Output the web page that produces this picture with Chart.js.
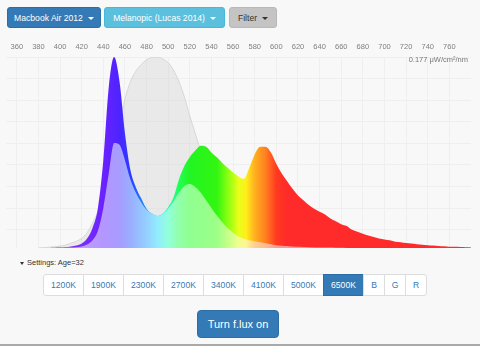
<!DOCTYPE html>
<html>
<head>
<meta charset="utf-8">
<script src="https://cdn.jsdelivr.net/npm/chart.js@4"></script>
<style>
  body { margin: 0; width: 480px; height: 346px; background: #f8f8f8; position: relative; overflow: hidden;
         font-family: "Liberation Sans", Arial, Helvetica, sans-serif; }
  .btn { position: absolute; box-sizing: border-box; border-radius: 3px; text-align: center; white-space: nowrap; }
  .top { top: 7px; height: 21px; line-height: 21px; font-size: 8.6px; color: #fff; }
  .caret { display: inline-block; width: 0; height: 0; margin-left: 5px; vertical-align: middle;
           border-top: 3px solid; border-left: 3px solid transparent; border-right: 3px solid transparent; }
  #device { left: 7px; width: 94px; background: #337ab7; border: 1px solid #2e6da4; }
  #curve { left: 104px; width: 121px; background: #5bc0de; border: 1px solid #46b8da; }
  #filter { left: 229px; width: 48px; background: #c4c4c4; border: 1px solid #b8b8b8; color: #333; }
  #chartBox { position: absolute; left: 0; top: 32px; width: 480px; height: 218px; }
  #units { position: absolute; right: 12px; top: 55px; font-size: 7.5px; color: #777; }
  #settings { position: absolute; left: 20px; top: 258px; font-size: 7.5px; color: #333; }
  #settings .caret { margin: 0 3px 0 0; border-top-width: 3px; border-left-width: 2.5px; border-right-width: 2.5px; }
  #temps { position: absolute; left: 43px; top: 274px; height: 22px; display: flex; }
  #temps div { height: 22px; line-height: 20px; box-sizing: border-box; border: 1px solid #ddd; margin-left: -1px;
               background: #fff; color: #337ab7; font-size: 8.6px; text-align: center; }
  #temps div.k { width: 41px; }
  #temps div.c { width: 22px; }
  #temps div:first-child { border-radius: 3px 0 0 3px; margin-left: 0; }
  #temps div:last-child { border-radius: 0 3px 3px 0; }
  #temps div.on { background: #337ab7; border-color: #2e6da4; color: #fff; }
  #flux { left: 197px; top: 310px; width: 82px; height: 28px; line-height: 27px; background: #337ab7;
          border: 1px solid #2e6da4; border-radius: 4px; color: #fff; font-size: 11px; }
  #foot { position: absolute; left: 0; top: 344px; width: 480px; height: 2px; background: #a9a9a9; }
</style>
</head>
<body>
<div class="btn top" id="device">Macbook Air 2012<span class="caret"></span></div>
<div class="btn top" id="curve">Melanopic (Lucas 2014)<span class="caret"></span></div>
<div class="btn top" id="filter">Filter<span class="caret"></span></div>

<div id="chartBox"><canvas id="spectrum" width="480" height="218"></canvas></div>
<div id="units">0.177 μW/cm²/nm</div>

<div id="settings"><span class="caret"></span>Settings: Age=32</div>
<div id="temps">
  <div class="k">1200K</div><div class="k">1900K</div><div class="k">2300K</div><div class="k">2700K</div>
  <div class="k">3400K</div><div class="k">4100K</div><div class="k">5000K</div><div class="k on">6500K</div>
  <div class="c">B</div><div class="c">G</div><div class="c">R</div>
</div>
<div class="btn" id="flux">Turn f.lux on</div>
<div id="foot"></div>

<script>
// wavelength axis labels (nm)
const tickLabels = [360, 380, 400, 420, 440, 460, 480, 500, 520, 540, 560, 580, 600, 620, 640, 660, 680, 700, 720, 740, 760];

// sample wavelengths, 5 nm apart
const wavelengths = [
  380, 385, 390, 395, 400, 405, 410, 415, 420, 425, 430, 435, 440, 445, 450, 455, 460, 465, 470, 475,
  480, 485, 490, 495, 500, 505, 510, 515, 520, 525, 530, 535, 540, 545, 550, 555, 560, 565, 570, 575,
  580, 585, 590, 595, 600, 605, 610, 615, 620, 625, 630, 635, 640, 645, 650, 655, 660, 665, 670, 675,
  680, 685, 690, 695, 700, 705, 710, 715, 720, 725, 730, 735, 740, 745, 750, 755, 760, 765, 770, 775, 780
];

// display emission, normalised to its blue peak
const display = [
  0, 0, 0, 0.001, 0.002, 0.004, 0.008, 0.013, 0.024, 0.05, 0.105, 0.21, 0.46, 0.84, 1.0, 0.87, 0.6, 0.41, 0.32, 0.26,
  0.205, 0.18, 0.168, 0.18, 0.215, 0.267, 0.36, 0.43, 0.477, 0.51, 0.535, 0.53, 0.5, 0.475, 0.445, 0.42, 0.395, 0.375, 0.362, 0.42,
  0.49, 0.53, 0.53, 0.5, 0.44, 0.39, 0.35, 0.31, 0.275, 0.25, 0.225, 0.205, 0.19, 0.175, 0.155, 0.14, 0.125, 0.115, 0.095, 0.085,
  0.075, 0.065, 0.058, 0.05, 0.045, 0.04, 0.033, 0.03, 0.026, 0.023, 0.02, 0.017, 0.015, 0.013, 0.011, 0.009, 0.007, 0.006, 0.005, 0.004, 0.003
];

// emission weighted by the melanopic curve
const weighted = [
  0, 0, 0, 0, 0, 0.001, 0.002, 0.004, 0.008, 0.018, 0.04, 0.09, 0.21, 0.39, 0.55, 0.54, 0.46, 0.36, 0.29, 0.24,
  0.2, 0.18, 0.168, 0.178, 0.205, 0.245, 0.29, 0.325, 0.335, 0.32, 0.29, 0.25, 0.21, 0.17, 0.135, 0.105, 0.08, 0.06, 0.048, 0.04,
  0.035, 0.03, 0.025, 0.02, 0.015, 0.012, 0.01, 0.008, 0.006, 0.005, 0.004, 0.003, 0.003, 0.002, 0.002, 0.001, 0.001, 0, 0, 0,
  0, 0, 0, 0, 0, 0, 0, 0, 0, 0, 0, 0, 0, 0, 0, 0, 0, 0, 0, 0, 0
];

// melanopic sensitivity (Lucas 2014)
const melanopic = [
  0, 0.002, 0.004, 0.007, 0.01, 0.015, 0.025, 0.035, 0.05, 0.08, 0.13, 0.19, 0.27, 0.37, 0.5, 0.65, 0.78, 0.87, 0.925, 0.96,
  0.985, 0.998, 1.0, 0.99, 0.97, 0.93, 0.87, 0.79, 0.69, 0.6, 0.51, 0.43, 0.35, 0.28, 0.22, 0.17, 0.13, 0.1, 0.075, 0.055,
  0.04, 0.03, 0.02, 0.015, 0.01, 0.007, 0.005, 0.003, 0.002, 0.001, 0, 0, 0, 0, 0, 0, 0, 0, 0, 0,
  0, 0, 0, 0, 0, 0, 0, 0, 0, 0, 0, 0, 0, 0, 0, 0, 0, 0, 0, 0, 0
];

// rainbow fill: stop wavelengths with a vivid and a pale colour each
const stopNm = [380, 420, 440, 455, 465, 480, 490, 500, 510, 520, 545, 555, 565, 572, 580, 590, 600, 610, 780];
const vivid = ["#8a2be2", "#7b2cff", "#6a22ff", "#4c24ff", "#2b3cff", "#1f8fff", "#22d8ff", "#22ffb0", "#22ff55", "#22f522",
               "#33f511", "#88ff11", "#e8ff1a", "#ffee1a", "#ffb020", "#ff8020", "#ff3a20", "#ff2a2a", "#ff2a2a"];
const pale = ["#c9a6f5", "#bf9cff", "#b496ff", "#a69cff", "#9aaeff", "#94cfff", "#92ecff", "#92ffdc", "#92ffaa", "#90ff90",
              "#9cff88", "#c4ff88", "#f0ff90", "#fff490", "#ffd090", "#ffbb90", "#ff9c90", "#ff9494", "#ff9494"];

function rainbow(colors) {
  return function (context) {
    const chart = context.chart;
    const area = chart.chartArea;
    if (!area) return null;
    const xs = chart.scales.x;
    const g = chart.ctx.createLinearGradient(area.left, 0, area.right, 0);
    stopNm.forEach((w, i) => {
      const t = (xs.getPixelForValue(w) - area.left) / (area.right - area.left);
      g.addColorStop(Math.min(1, Math.max(0, t)), colors[i]);
    });
    return g;
  };
}

function points(values) {
  return wavelengths.map((w, i) => ({ x: w, y: values[i] }));
}

const font = { family: "'Liberation Sans', Arial, sans-serif", size: 7.5 };

new Chart(document.getElementById("spectrum"), {
  type: "line",
  data: {
    datasets: [
      {
        label: "weighted",
        data: points(weighted),
        backgroundColor: rainbow(pale),
        borderWidth: 0,
        fill: "origin",
        order: 1,
      },
      {
        label: "display",
        data: points(display),
        backgroundColor: rainbow(vivid),
        borderWidth: 0,
        fill: "origin",
        order: 2,
      },
      {
        label: "melanopic",
        data: points(melanopic),
        backgroundColor: "rgba(200, 200, 200, 0.3)",
        borderColor: "#d6d6d6",
        borderWidth: 1,
        fill: "origin",
        order: 3,
      },
    ],
  },
  options: {
    responsive: false,
    animation: false,
    elements: { point: { radius: 0 }, line: { cubicInterpolationMode: "monotone" } },
    layout: { padding: { left: 6, right: 9, top: 4, bottom: 2 } },
    plugins: { legend: { display: false }, tooltip: { enabled: false } },
    scales: {
      x: {
        type: "linear",
        position: "top",
        min: 350,
        max: 780,
        afterBuildTicks: (axis) => { axis.ticks = tickLabels.map((v) => ({ value: v })); },
        grid: { color: "#efefef", drawTicks: false },
        border: { display: false },
        ticks: { color: "#808080", font: font, padding: 6, maxRotation: 0, autoSkip: false },
      },
      y: {
        min: 0,
        max: 1,
        afterBuildTicks: (axis) => {
          const t = [];
          for (let k = 0; k < 9; k++) t.push({ value: 1 - k * 0.113 });
          axis.ticks = t;
        },
        grid: { color: "#efefef", drawTicks: false },
        border: { display: false },
        ticks: { display: false },
      },
    },
  },
});
</script>
</body>
</html>
